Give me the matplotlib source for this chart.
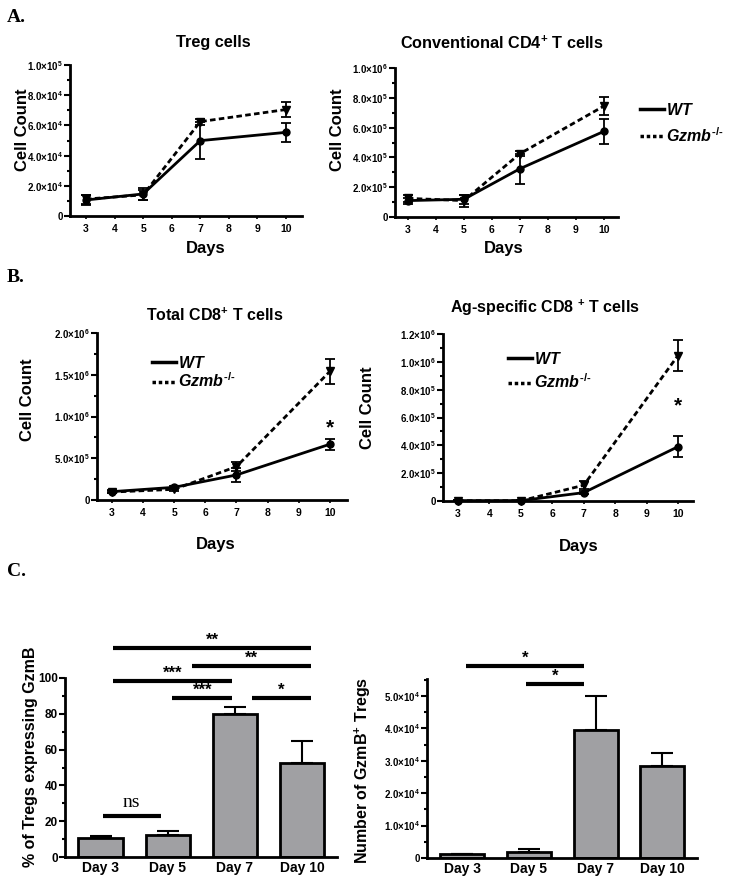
import matplotlib
matplotlib.use("Agg")
import matplotlib.pyplot as plt
from matplotlib.lines import Line2D
from matplotlib.ticker import MultipleLocator

W, H = 729, 882

plt.rcParams['font.family'] = ['Liberation Sans', 'DejaVu Sans']
plt.rcParams['font.weight'] = 'bold'
plt.rcParams['mathtext.fontset'] = 'custom'
plt.rcParams['mathtext.rm'] = 'Liberation Sans:bold'
plt.rcParams['mathtext.bf'] = 'Liberation Sans:bold'
plt.rcParams['mathtext.it'] = 'Liberation Sans:italic:bold'

# ---- data ----
days = [3, 5, 7, 10]

treg_wt = [10600, 14600, 49900, 55400]
treg_wt_err = [3500, 4200, 12200, 6500]
treg_ko = [11200, 14000, 62500, 70500]
treg_ko_err = [3000, 3500, 2000, 5000]

cd4_wt = [110000, 119000, 324000, 575000]
cd4_wt_err = [20000, 30000, 100000, 85000]
cd4_ko = [125000, 110000, 425000, 745000]
cd4_ko_err = [25000, 40000, 15000, 60000]

cd8_wt = [100000, 152000, 300000, 668000]
cd8_wt_err = [20000, 20000, 80000, 65000]
cd8_ko = [95000, 128000, 400000, 1540000]
cd8_ko_err = [15000, 20000, 50000, 145000]

ag_wt = [3000, 3000, 60000, 390000]
ag_wt_err = [5000, 5000, 10000, 76000]
ag_ko = [2000, 2000, 113000, 1045000]
ag_ko_err = [5000, 5000, 30000, 110000]

bar_labels = ['Day 3', 'Day 5', 'Day 7', 'Day 10']
pct_gzmb = [10.5, 12.5, 80, 52.5]
pct_gzmb_err = [1, 2, 4, 12.5]
num_gzmb = [1100, 1900, 39500, 28500]
num_gzmb_err = [200, 1000, 10500, 4000]

# significance brackets: (from bar, to bar, height, label)
pct_sig = [(0.03, 0.9, 23, 'ns'), (1.07, 1.96, 88.8, '***'), (2.25, 3.13, 88.8, '*'),
           (0.19, 1.96, 98.3, '***'), (1.36, 3.13, 106.7, '**'), (0.19, 3.13, 116.8, '**')]
num_sig = [(0.06, 1.83, 59300, '*'), (0.96, 1.83, 53700, '*')]

treg_ticks = [0, 20000, 40000, 60000, 80000, 100000]
treg_labels = ['0', '2.0×10$^{4}$', '4.0×10$^{4}$', '6.0×10$^{4}$', '8.0×10$^{4}$', '1.0×10$^{5}$']
cd4_ticks = [0, 200000, 400000, 600000, 800000, 1000000]
cd4_labels = ['0', '2.0×10$^{5}$', '4.0×10$^{5}$', '6.0×10$^{5}$', '8.0×10$^{5}$', '1.0×10$^{6}$']
cd8_ticks = [0, 500000, 1000000, 1500000, 2000000]
cd8_labels = ['0', '5.0×10$^{5}$', '1.0×10$^{6}$', '1.5×10$^{6}$', '2.0×10$^{6}$']
ag_ticks = [0, 200000, 400000, 600000, 800000, 1000000, 1200000]
ag_labels = ['0', '2.0×10$^{5}$', '4.0×10$^{5}$', '6.0×10$^{5}$', '8.0×10$^{5}$',
             '1.0×10$^{6}$', '1.2×10$^{6}$']
pct_ticks = [0, 20, 40, 60, 80, 100]
num_ticks = [0, 10000, 20000, 30000, 40000, 50000]
num_labels = ['0', '1.0×10$^{4}$', '2.0×10$^{4}$', '3.0×10$^{4}$', '4.0×10$^{4}$', '5.0×10$^{4}$']


def box(l, t, r, b):
    return [l / W, 1 - b / H, (r - l) / W, (b - t) / H]


def ftext(x, y, s, **kw):
    fig.text(x / W, 1 - y / H, s, **kw)


def style_axes(ax):
    for side in ['top', 'right']:
        ax.spines[side].set_visible(False)
    for side in ['left', 'bottom']:
        ax.spines[side].set_linewidth(2)
    ax.tick_params(axis='y', which='major', length=4, width=1.5, pad=1)
    ax.tick_params(axis='y', which='minor', length=2.5, width=1.5)


def line_panel(ax, wt, wt_err, ko, ko_err, ticks, labels, minor, xlim):
    ax.errorbar(days, ko, yerr=ko_err, color='k', lw=2, ls=(0, (2, 1.2)), marker='v', ms=6,
                capsize=3.5, elinewidth=1.3, capthick=1.3, clip_on=False)
    ax.errorbar(days, wt, yerr=wt_err, color='k', lw=2, marker='o', ms=5,
                capsize=3.5, elinewidth=1.3, capthick=1.3, clip_on=False)
    ax.set_xlim(*xlim)
    ax.set_ylim(0, ticks[-1])
    ax.set_xticks(range(3, 11))
    ax.set_yticks(ticks)
    ax.set_yticklabels(labels, fontsize=7)
    ax.yaxis.set_minor_locator(MultipleLocator(minor))
    ax.tick_params(axis='x', labelsize=7.5, length=2, width=1.2, pad=4)
    style_axes(ax)


def bar_panel(ax, vals, errs, ticks, labels, minor, ymax, sig):
    x = range(len(vals))
    ax.bar(x, vals, width=0.66, color='#a0a0a3', edgecolor='k', linewidth=2, zorder=2)
    ax.errorbar(x, vals, yerr=[[0] * len(errs), errs], fmt='none', ecolor='k',
                elinewidth=1.5, capsize=8, capthick=1.5, zorder=1)
    ax.set_xlim(-0.53, 3.52)
    ax.set_ylim(0, ymax)
    ax.set_xticks(list(x))
    ax.set_xticklabels(bar_labels, fontsize=10)
    ax.tick_params(axis='x', length=0, pad=3)
    ax.set_yticks(ticks)
    ax.set_yticklabels(labels, fontsize=8.5 if labels[1] == '20' else 7)
    ax.yaxis.set_minor_locator(MultipleLocator(minor))
    style_axes(ax)
    for x1, x2, y, lab in sig:
        ax.plot([x1, x2], [y, y], color='k', lw=3, solid_capstyle='butt', clip_on=False)
        if lab == 'ns':
            ax.text((x1 + x2) / 2, y + ymax * 0.025, lab, ha='center', va='bottom',
                    family='Liberation Serif', fontweight='normal', fontsize=14)
        else:
            ax.text((x1 + x2) / 2, y, lab, ha='center', va='bottom', fontsize=12)


fig = plt.figure(figsize=(W / 100, H / 100), dpi=100)

# ---- A ----
ax1 = fig.add_axes(box(70, 65, 302, 216))
line_panel(ax1, treg_wt, treg_wt_err, treg_ko, treg_ko_err, treg_ticks, treg_labels, 10000, (2.44, 10.56))
ax2 = fig.add_axes(box(395, 68, 618, 217))
line_panel(ax2, cd4_wt, cd4_wt_err, cd4_ko, cd4_ko_err, cd4_ticks, cd4_labels, 100000, (2.54, 10.5))

# ---- B ----
ax3 = fig.add_axes(box(97, 333, 347, 500))
line_panel(ax3, cd8_wt, cd8_wt_err, cd8_ko, cd8_ko_err, cd8_ticks, cd8_labels, 250000, (2.52, 10.55))
ax4 = fig.add_axes(box(443, 334, 693, 501))
line_panel(ax4, ag_wt, ag_wt_err, ag_ko, ag_ko_err, ag_ticks, ag_labels, 100000, (2.52, 10.48))
ax3.text(10, 860000, '*', ha='center', va='center', fontsize=15)
ax4.text(10, 680000, '*', ha='center', va='center', fontsize=15)

# ---- C ----
ax5 = fig.add_axes(box(65, 678, 337, 857))
bar_panel(ax5, pct_gzmb, pct_gzmb_err, pct_ticks, [str(t) for t in pct_ticks], 10, 100, pct_sig)
ax6 = fig.add_axes(box(427, 679, 697, 858))
bar_panel(ax6, num_gzmb, num_gzmb_err, num_ticks, num_labels, 5000, 55200, num_sig)

# legends
handles = [Line2D([], [], color='k', lw=2.5),
           Line2D([], [], color='k', lw=2.5, ls=(0, (1, 0.8)))]
names = ['$\\mathit{WT}$', '$\\mathit{Gzmb}^{\u2010/\u2010}$']
for ax, (lx, ly), sp in [(ax2, (640, 102), 0.5), (ax3, (152, 355), 0.05), (ax4, (508, 351), 0.35)]:
    ax.legend(handles, names, loc='upper left', bbox_to_anchor=(lx / W, 1 - ly / H),
              bbox_transform=fig.transFigure, frameon=False, fontsize=11.5,
              handlelength=1.5, handletextpad=0.15, labelspacing=sp, borderpad=0, borderaxespad=0)

# titles and axis labels
ftext(7, 17, 'A.', family='Liberation Serif', fontsize=14, va='center')
ftext(7, 277, 'B.', family='Liberation Serif', fontsize=14, va='center')
ftext(7, 572, 'C.', family='Liberation Serif', fontsize=14, va='center')

ftext(213, 43, 'Treg cells', fontsize=11.7, ha='center', va='center')
ftext(502, 43, 'Conventional CD4$^{+}$ T cells', fontsize=11.7, ha='center', va='center')
ftext(215, 315, 'Total CD8$^{+}$ T cells', fontsize=11.5, ha='center', va='center')
ftext(545, 308, 'Ag-specific CD8 $^{+}$ T cells', fontsize=11.5, ha='center', va='center')

for x, y in [(206, 248), (504, 248), (216, 545), (579, 547)]:
    ftext(x, y, 'Days', fontsize=12, ha='center', va='center')
for x, y in [(23, 130), (338, 130), (28, 400), (368, 408)]:
    ftext(x, y, 'Cell Count', fontsize=12, ha='center', va='center', rotation=90)
ftext(31, 757, '% of Tregs expressing GzmB', fontsize=11.5, ha='center', va='center', rotation=90)
ftext(363, 770, 'Number of GzmB$^{+}$ Tregs', fontsize=11.5, ha='center', va='center', rotation=90)

fig.savefig('out.png', dpi=100)
